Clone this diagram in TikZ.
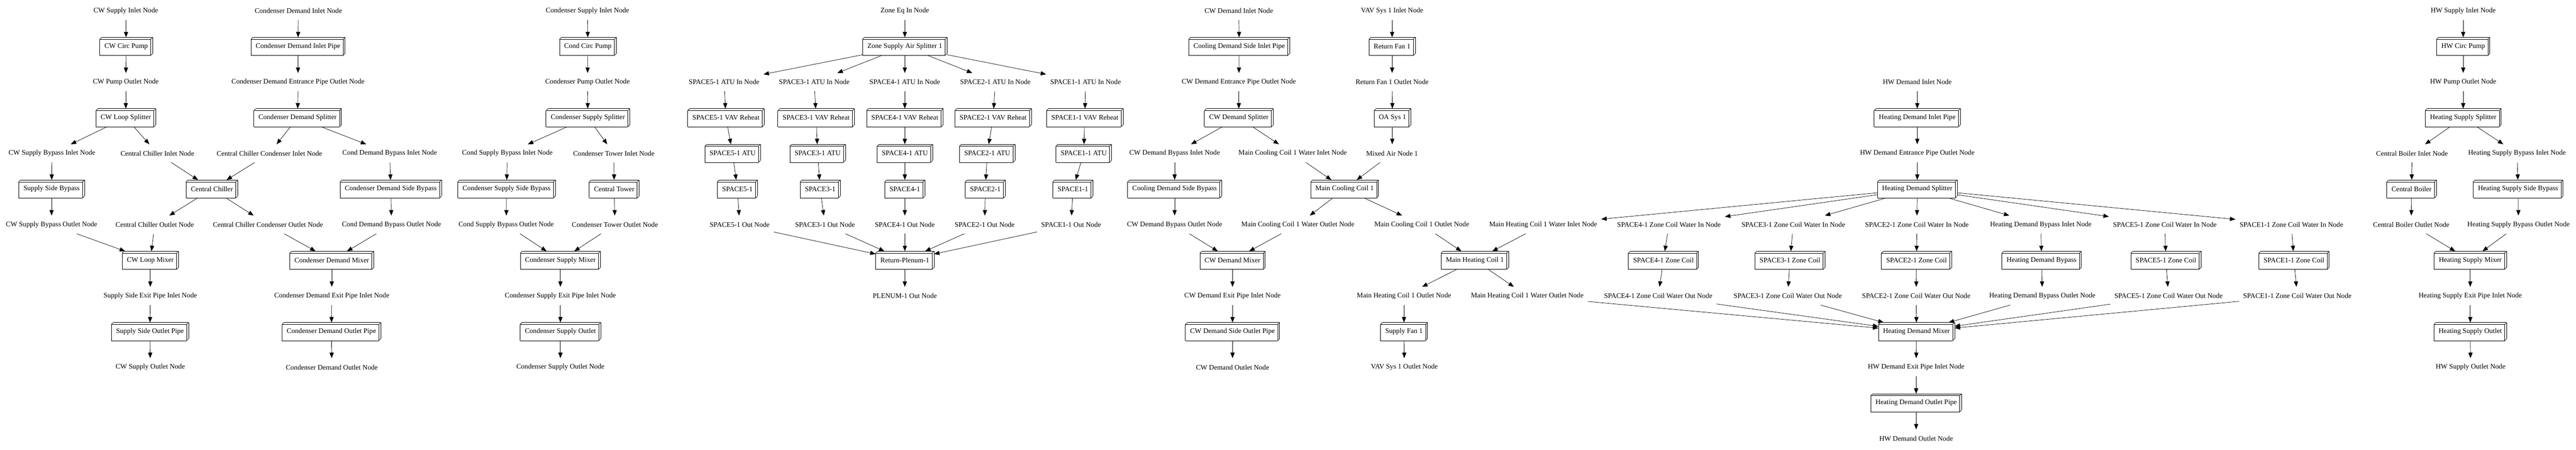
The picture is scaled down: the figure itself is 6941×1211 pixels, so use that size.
\documentclass[tikz,border=0pt]{standalone}
\usepackage{fontspec}
\setmainfont{Liberation Serif}
\usepackage{tikz}
\usetikzlibrary{arrows.meta}

\tikzset{
    port/.style={minimum height=36pt, inner xsep=8pt, inner ysep=0pt},
    comp/.style={minimum height=36pt, inner xsep=9.3pt, inner ysep=0pt,
        append after command={
            \pgfextra{\let\compnode\tikzlastnode}
            (\compnode.south west) edge[-] ([yshift=-4pt]\compnode.north west)
            ([yshift=-4pt]\compnode.north west) edge[-] ([shift={(-4pt,-4pt)}]\compnode.north east)
            ([shift={(-4pt,-4pt)}]\compnode.north east) edge[-] ([xshift=-4pt]\compnode.south east)
            ([xshift=-4pt]\compnode.south east) edge[-] (\compnode.south west)
            ([yshift=-4pt]\compnode.north west) edge[-] ([xshift=4pt]\compnode.north west)
            ([xshift=4pt]\compnode.north west) edge[-] (\compnode.north east)
            (\compnode.north east) edge[-] ([yshift=4pt]\compnode.south east)
            ([yshift=4pt]\compnode.south east) edge[-] ([xshift=-4pt]\compnode.south east)
            ([shift={(-4pt,-4pt)}]\compnode.north east) edge[-] (\compnode.north east)
        }},
    flow/.style={-{Triangle[length=11pt, width=8.5pt]}}
}

\begin{document}
\begin{tikzpicture}[x=0.75pt, y=-0.75pt, line width=0.75pt, font=\fontsize{14.2}{16}\selectfont]
    \useasboundingbox (0, 0) rectangle (6941, 1211);

    % Chilled water supply loop
    \node[port] (cwsIn) at (339, 29) {CW Supply Inlet Node};
    \node[comp] (cwPump) at (340, 125) {CW Circ Pump};
    \node[port] (cwPumpOut) at (339, 221) {CW Pump Outlet Node};
    \node[comp] (cwSplit) at (339, 317) {CW Loop Splitter};
    \node[port] (cwBypIn) at (140, 413) {CW Supply Bypass Inlet Node};
    \node[port] (chilIn) at (424, 413) {Central Chiller Inlet Node};
    \node[comp] (cwBypass) at (139, 509) {Supply Side Bypass};
    \node[comp] (chiller) at (571, 509) {Central Chiller};
    \node[port] (cwBypOut) at (139, 605) {CW Supply Bypass Outlet Node};
    \node[port] (chilOut) at (417, 605) {Central Chiller Outlet Node};
    \node[port] (chilCondOut) at (722, 605) {Central Chiller Condenser Outlet Node};
    \node[comp] (cwMix) at (405, 701) {CW Loop Mixer};
    \node[port] (cwExitIn) at (405, 797) {Supply Side Exit Pipe Inlet Node};
    \node[comp] (cwOutPipe) at (404, 893) {Supply Side Outlet Pipe};
    \node[port] (cwsOut) at (405, 989) {CW Supply Outlet Node};

    % Condenser demand loop
    \node[port] (cdIn) at (804, 29) {Condenser Demand Inlet Node};
    \node[comp] (cdInPipe) at (803, 125) {Condenser Demand Inlet Pipe};
    \node[port] (cdEntOut) at (803, 221) {Condenser Demand Entrance Pipe Outlet Node};
    \node[comp] (cdSplit) at (802, 317) {Condenser Demand Splitter};
    \node[port] (chilCondIn) at (726, 413) {Central Chiller Condenser Inlet Node};
    \node[port] (cdBypIn) at (1050, 413) {Cond Demand Bypass Inlet Node};
    \node[comp] (cdBypass) at (1053, 509) {Condenser Demand Side Bypass};
    \node[port] (cdBypOut) at (1055, 605) {Cond Demand Bypass Outlet Node};
    \node[comp] (cdMix) at (894, 701) {Condenser Demand Mixer};
    \node[port] (cdExitIn) at (894, 797) {Condenser Demand Exit Pipe Inlet Node};
    \node[comp] (cdOutPipe) at (893, 893) {Condenser Demand Outlet Pipe};
    \node[port] (cdOut) at (894, 989) {Condenser Demand Outlet Node};

    % Condenser supply loop
    \node[port] (csIn) at (1583, 29) {Condenser Supply Inlet Node};
    \node[comp] (condPump) at (1584, 125) {Cond Circ Pump};
    \node[port] (csPumpOut) at (1583, 221) {Condenser Pump Outlet Node};
    \node[comp] (csSplit) at (1584, 317) {Condenser Supply Splitter};
    \node[port] (csBypIn) at (1367, 413) {Cond Supply Bypass Inlet Node};
    \node[port] (towerIn) at (1654, 413) {Condenser Tower Inlet Node};
    \node[comp] (csBypass) at (1365, 509) {Condenser Supply Side Bypass};
    \node[comp] (tower) at (1655, 509) {Central Tower};
    \node[port] (csBypOut) at (1364, 605) {Cond Supply Bypass Outlet Node};
    \node[port] (towerOut) at (1657, 605) {Condenser Tower Outlet Node};
    \node[comp] (csMix) at (1510, 701) {Condenser Supply Mixer};
    \node[port] (csExitIn) at (1510, 797) {Condenser Supply Exit Pipe Inlet Node};
    \node[comp] (csOutlet) at (1510, 893) {Condenser Supply Outlet};
    \node[port] (csOut) at (1510, 989) {Condenser Supply Outlet Node};

    % Zone air distribution
    \node[port] (zeqIn) at (2438, 29) {Zone Eq In Node};
    \node[comp] (zSplit) at (2438, 125) {Zone Supply Air Splitter 1};
    \node[port] (atuIn5) at (1951, 221) {SPACE5-1 ATU In Node};
    \node[port] (atuIn3) at (2194, 221) {SPACE3-1 ATU In Node};
    \node[port] (atuIn4) at (2438, 221) {SPACE4-1 ATU In Node};
    \node[port] (atuIn2) at (2682, 221) {SPACE2-1 ATU In Node};
    \node[port] (atuIn1) at (2925, 221) {SPACE1-1 ATU In Node};
    \node[comp] (vav5) at (1956, 317) {SPACE5-1 VAV Reheat};
    \node[comp] (vav3) at (2199, 317) {SPACE3-1 VAV Reheat};
    \node[comp] (vav4) at (2438, 317) {SPACE4-1 VAV Reheat};
    \node[comp] (vav2) at (2676, 317) {SPACE2-1 VAV Reheat};
    \node[comp] (vav1) at (2923, 317) {SPACE1-1 VAV Reheat};
    \node[comp] (atu5) at (1974, 413) {SPACE5-1 ATU};
    \node[comp] (atu3) at (2203, 413) {SPACE3-1 ATU};
    \node[comp] (atu4) at (2438, 413) {SPACE4-1 ATU};
    \node[comp] (atu2) at (2660, 413) {SPACE2-1 ATU};
    \node[comp] (atu1) at (2920, 413) {SPACE1-1 ATU};
    \node[comp] (sp5) at (1987, 509) {SPACE5-1};
    \node[comp] (sp3) at (2210, 509) {SPACE3-1};
    \node[comp] (sp4) at (2438, 509) {SPACE4-1};
    \node[comp] (sp2) at (2655, 509) {SPACE2-1};
    \node[comp] (sp1) at (2891, 509) {SPACE1-1};
    \node[port] (spOut5) at (1993, 605) {SPACE5-1 Out Node};
    \node[port] (spOut3) at (2223, 605) {SPACE3-1 Out Node};
    \node[port] (spOut4) at (2438, 605) {SPACE4-1 Out Node};
    \node[port] (spOut2) at (2653, 605) {SPACE2-1 Out Node};
    \node[port] (spOut1) at (2886, 605) {SPACE1-1 Out Node};
    \node[comp] (plenum) at (2438, 701) {Return-Plenum-1};
    \node[port] (plOut) at (2438, 797) {PLENUM-1 Out Node};

    % Chilled water demand loop
    \node[port] (cwdIn) at (3338, 29) {CW Demand Inlet Node};
    \node[comp] (cwdInPipe) at (3339, 125) {Cooling Demand Side Inlet Pipe};
    \node[port] (cwdEntOut) at (3338, 221) {CW Demand Entrance Pipe Outlet Node};
    \node[comp] (cwdSplit) at (3338, 317) {CW Demand Splitter};
    \node[port] (cwdBypIn) at (3165, 413) {CW Demand Bypass Inlet Node};
    \node[port] (ccWIn) at (3483, 413) {Main Cooling Coil 1 Water Inlet Node};
    \node[comp] (cwdBypass) at (3165, 509) {Cooling Demand Side Bypass};
    \node[comp] (cCoil) at (3623, 509) {Main Cooling Coil 1};
    \node[port] (cwdBypOut) at (3165, 605) {CW Demand Bypass Outlet Node};
    \node[port] (ccWOut) at (3497, 605) {Main Cooling Coil 1 Water Outlet Node};
    \node[comp] (cwdMix) at (3321, 701) {CW Demand Mixer};
    \node[port] (cwdExitIn) at (3321, 797) {CW Demand Exit Pipe Inlet Node};
    \node[comp] (cwdOutPipe) at (3321, 893) {CW Demand Side Outlet Pipe};
    \node[port] (cwdOut) at (3321, 989) {CW Demand Outlet Node};

    % Air loop
    \node[port] (vavIn) at (3751, 29) {VAV Sys 1 Inlet Node};
    \node[comp] (rFan) at (3751, 125) {Return Fan 1};
    \node[port] (rFanOut) at (3751, 221) {Return Fan 1 Outlet Node};
    \node[comp] (oaSys) at (3752, 317) {OA Sys 1};
    \node[port] (mixAir) at (3751, 413) {Mixed Air Node 1};
    \node[port] (ccOut) at (3831, 605) {Main Cooling Coil 1 Outlet Node};
    \node[port] (hcWIn) at (4158, 605) {Main Heating Coil 1 Water Inlet Node};
    \node[comp] (hCoil) at (3974, 701) {Main Heating Coil 1};
    \node[port] (hcOut) at (3783, 797) {Main Heating Coil 1 Outlet Node};
    \node[port] (hcWOut) at (4115, 797) {Main Heating Coil 1 Water Outlet Node};
    \node[comp] (sFan) at (3783, 893) {Supply Fan 1};
    \node[port] (vavOut) at (3784, 989) {VAV Sys 1 Outlet Node};

    % Hot water demand loop
    \node[port] (hwdIn) at (5166, 221) {HW Demand Inlet Node};
    \node[comp] (hwdInPipe) at (5166, 317) {Heating Demand Inlet Pipe};
    \node[port] (hwdEntOut) at (5166, 413) {HW Demand Entrance Pipe Outlet Node};
    \node[comp] (hwdSplit) at (5166, 509) {Heating Demand Splitter};
    \node[port] (zcIn4) at (4497, 605) {SPACE4-1 Zone Coil Water In Node};
    \node[port] (zcIn3) at (4832, 605) {SPACE3-1 Zone Coil Water In Node};
    \node[port] (zcIn2) at (5165, 605) {SPACE2-1 Zone Coil Water In Node};
    \node[port] (hwdBypIn) at (5499, 605) {Heating Demand Bypass Inlet Node};
    \node[port] (zcIn5) at (5833, 605) {SPACE5-1 Zone Coil Water In Node};
    \node[port] (zcIn1) at (6174, 605) {SPACE1-1 Zone Coil Water In Node};
    \node[comp] (zc4) at (4482, 701) {SPACE4-1 Zone Coil};
    \node[comp] (zc3) at (4823, 701) {SPACE3-1 Zone Coil};
    \node[comp] (zc2) at (5164, 701) {SPACE2-1 Zone Coil};
    \node[comp] (hwdBypass) at (5501, 701) {Heating Demand Bypass};
    \node[comp] (zc5) at (5836, 701) {SPACE5-1 Zone Coil};
    \node[comp] (zc1) at (6181, 701) {SPACE1-1 Zone Coil};
    \node[port] (zcOut4) at (4468, 797) {SPACE4-1 Zone Coil Water Out Node};
    \node[port] (zcOut3) at (4817, 797) {SPACE3-1 Zone Coil Water Out Node};
    \node[port] (zcOut2) at (5163, 797) {SPACE2-1 Zone Coil Water Out Node};
    \node[port] (hwdBypOut) at (5503, 797) {Heating Demand Bypass Outlet Node};
    \node[port] (zcOut5) at (5843, 797) {SPACE5-1 Zone Coil Water Out Node};
    \node[port] (zcOut1) at (6190, 797) {SPACE1-1 Zone Coil Water Out Node};
    \node[comp] (hwdMix) at (5164, 893) {Heating Demand Mixer};
    \node[port] (hwdExitIn) at (5163, 989) {HW Demand Exit Pipe Inlet Node};
    \node[comp] (hwdOutPipe) at (5163, 1085) {Heating Demand Outlet Pipe};
    \node[port] (hwdOut) at (5163, 1181) {HW Demand Outlet Node};

    % Hot water supply loop
    \node[port] (hwsIn) at (6637, 29) {HW Supply Inlet Node};
    \node[comp] (hwPump) at (6637, 125) {HW Circ Pump};
    \node[port] (hwPumpOut) at (6637, 221) {HW Pump Outlet Node};
    \node[comp] (hwsSplit) at (6637, 317) {Heating Supply Splitter};
    \node[port] (boilIn) at (6499, 413) {Central Boiler Inlet Node};
    \node[port] (hwsBypIn) at (6782, 413) {Heating Supply Bypass Inlet Node};
    \node[comp] (boiler) at (6498, 509) {Central Boiler};
    \node[comp] (hwsBypass) at (6785, 509) {Heating Supply Side Bypass};
    \node[port] (boilOut) at (6497, 605) {Central Boiler Outlet Node};
    \node[port] (hwsBypOut) at (6786, 605) {Heating Supply Bypass Outlet Node};
    \node[comp] (hwsMix) at (6656, 701) {Heating Supply Mixer};
    \node[port] (hwsExitIn) at (6656, 797) {Heating Supply Exit Pipe Inlet Node};
    \node[comp] (hwsOutlet) at (6656, 893) {Heating Supply Outlet};
    \node[port] (hwsOut) at (6657, 989) {HW Supply Outlet Node};

    % Connections: chilled water supply
    \draw[flow] (cwsIn) -- (cwPump);
    \draw[flow] (cwPump) -- (cwPumpOut);
    \draw[flow] (cwPumpOut) -- (cwSplit);
    \draw[flow] (cwSplit) -- (cwBypIn);
    \draw[flow] (cwSplit) -- (chilIn);
    \draw[flow] (cwBypIn) -- (cwBypass);
    \draw[flow] (chilIn) -- (chiller);
    \draw[flow] (cwBypass) -- (cwBypOut);
    \draw[flow] (chiller) -- (chilOut);
    \draw[flow] (chiller) -- (chilCondOut);
    \draw[flow] (cwBypOut) -- (cwMix);
    \draw[flow] (chilOut) -- (cwMix);
    \draw[flow] (cwMix) -- (cwExitIn);
    \draw[flow] (cwExitIn) -- (cwOutPipe);
    \draw[flow] (cwOutPipe) -- (cwsOut);

    % Connections: condenser demand
    \draw[flow] (cdIn) -- (cdInPipe);
    \draw[flow] (cdInPipe) -- (cdEntOut);
    \draw[flow] (cdEntOut) -- (cdSplit);
    \draw[flow] (cdSplit) -- (chilCondIn);
    \draw[flow] (cdSplit) -- (cdBypIn);
    \draw[flow] (chilCondIn) -- (chiller);
    \draw[flow] (cdBypIn) -- (cdBypass);
    \draw[flow] (cdBypass) -- (cdBypOut);
    \draw[flow] (chilCondOut) -- (cdMix);
    \draw[flow] (cdBypOut) -- (cdMix);
    \draw[flow] (cdMix) -- (cdExitIn);
    \draw[flow] (cdExitIn) -- (cdOutPipe);
    \draw[flow] (cdOutPipe) -- (cdOut);

    % Connections: condenser supply
    \draw[flow] (csIn) -- (condPump);
    \draw[flow] (condPump) -- (csPumpOut);
    \draw[flow] (csPumpOut) -- (csSplit);
    \draw[flow] (csSplit) -- (csBypIn);
    \draw[flow] (csSplit) -- (towerIn);
    \draw[flow] (csBypIn) -- (csBypass);
    \draw[flow] (towerIn) -- (tower);
    \draw[flow] (csBypass) -- (csBypOut);
    \draw[flow] (tower) -- (towerOut);
    \draw[flow] (csBypOut) -- (csMix);
    \draw[flow] (towerOut) -- (csMix);
    \draw[flow] (csMix) -- (csExitIn);
    \draw[flow] (csExitIn) -- (csOutlet);
    \draw[flow] (csOutlet) -- (csOut);

    % Connections: zone air
    \draw[flow] (zeqIn) -- (zSplit);
    \draw[flow] (zSplit) -- (atuIn5);
    \draw[flow] (zSplit) -- (atuIn3);
    \draw[flow] (zSplit) -- (atuIn4);
    \draw[flow] (zSplit) -- (atuIn2);
    \draw[flow] (zSplit) -- (atuIn1);
    \draw[flow] (atuIn5) -- (vav5);
    \draw[flow] (atuIn3) -- (vav3);
    \draw[flow] (atuIn4) -- (vav4);
    \draw[flow] (atuIn2) -- (vav2);
    \draw[flow] (atuIn1) -- (vav1);
    \draw[flow] (vav5) -- (atu5);
    \draw[flow] (vav3) -- (atu3);
    \draw[flow] (vav4) -- (atu4);
    \draw[flow] (vav2) -- (atu2);
    \draw[flow] (vav1) -- (atu1);
    \draw[flow] (atu5) -- (sp5);
    \draw[flow] (atu3) -- (sp3);
    \draw[flow] (atu4) -- (sp4);
    \draw[flow] (atu2) -- (sp2);
    \draw[flow] (atu1) -- (sp1);
    \draw[flow] (sp5) -- (spOut5);
    \draw[flow] (sp3) -- (spOut3);
    \draw[flow] (sp4) -- (spOut4);
    \draw[flow] (sp2) -- (spOut2);
    \draw[flow] (sp1) -- (spOut1);
    \draw[flow] (spOut5) -- (plenum);
    \draw[flow] (spOut3) -- (plenum);
    \draw[flow] (spOut4) -- (plenum);
    \draw[flow] (spOut2) -- (plenum);
    \draw[flow] (spOut1) -- (plenum);
    \draw[flow] (plenum) -- (plOut);

    % Connections: chilled water demand
    \draw[flow] (cwdIn) -- (cwdInPipe);
    \draw[flow] (cwdInPipe) -- (cwdEntOut);
    \draw[flow] (cwdEntOut) -- (cwdSplit);
    \draw[flow] (cwdSplit) -- (cwdBypIn);
    \draw[flow] (cwdSplit) -- (ccWIn);
    \draw[flow] (cwdBypIn) -- (cwdBypass);
    \draw[flow] (ccWIn) -- (cCoil);
    \draw[flow] (cwdBypass) -- (cwdBypOut);
    \draw[flow] (cCoil) -- (ccWOut);
    \draw[flow] (cwdBypOut) -- (cwdMix);
    \draw[flow] (ccWOut) -- (cwdMix);
    \draw[flow] (cwdMix) -- (cwdExitIn);
    \draw[flow] (cwdExitIn) -- (cwdOutPipe);
    \draw[flow] (cwdOutPipe) -- (cwdOut);

    % Connections: air loop
    \draw[flow] (vavIn) -- (rFan);
    \draw[flow] (rFan) -- (rFanOut);
    \draw[flow] (rFanOut) -- (oaSys);
    \draw[flow] (oaSys) -- (mixAir);
    \draw[flow] (mixAir) -- (cCoil);
    \draw[flow] (cCoil) -- (ccOut);
    \draw[flow] (ccOut) -- (hCoil);
    \draw[flow] (hcWIn) -- (hCoil);
    \draw[flow] (hCoil) -- (hcOut);
    \draw[flow] (hCoil) -- (hcWOut);
    \draw[flow] (hcOut) -- (sFan);
    \draw[flow] (sFan) -- (vavOut);

    % Connections: hot water demand
    \draw[flow] (hwdIn) -- (hwdInPipe);
    \draw[flow] (hwdInPipe) -- (hwdEntOut);
    \draw[flow] (hwdEntOut) -- (hwdSplit);
    \draw[flow] (hwdSplit) -- (hcWIn);
    \draw[flow] (hwdSplit) -- (zcIn4);
    \draw[flow] (hwdSplit) -- (zcIn3);
    \draw[flow] (hwdSplit) -- (zcIn2);
    \draw[flow] (hwdSplit) -- (hwdBypIn);
    \draw[flow] (hwdSplit) -- (zcIn5);
    \draw[flow] (hwdSplit) -- (zcIn1);
    \draw[flow] (zcIn4) -- (zc4);
    \draw[flow] (zcIn3) -- (zc3);
    \draw[flow] (zcIn2) -- (zc2);
    \draw[flow] (hwdBypIn) -- (hwdBypass);
    \draw[flow] (zcIn5) -- (zc5);
    \draw[flow] (zcIn1) -- (zc1);
    \draw[flow] (zc4) -- (zcOut4);
    \draw[flow] (zc3) -- (zcOut3);
    \draw[flow] (zc2) -- (zcOut2);
    \draw[flow] (hwdBypass) -- (hwdBypOut);
    \draw[flow] (zc5) -- (zcOut5);
    \draw[flow] (zc1) -- (zcOut1);
    \draw[flow] (hcWOut) -- (hwdMix);
    \draw[flow] (zcOut4) -- (hwdMix);
    \draw[flow] (zcOut3) -- (hwdMix);
    \draw[flow] (zcOut2) -- (hwdMix);
    \draw[flow] (hwdBypOut) -- (hwdMix);
    \draw[flow] (zcOut5) -- (hwdMix);
    \draw[flow] (zcOut1) -- (hwdMix);
    \draw[flow] (hwdMix) -- (hwdExitIn);
    \draw[flow] (hwdExitIn) -- (hwdOutPipe);
    \draw[flow] (hwdOutPipe) -- (hwdOut);

    % Connections: hot water supply
    \draw[flow] (hwsIn) -- (hwPump);
    \draw[flow] (hwPump) -- (hwPumpOut);
    \draw[flow] (hwPumpOut) -- (hwsSplit);
    \draw[flow] (hwsSplit) -- (boilIn);
    \draw[flow] (hwsSplit) -- (hwsBypIn);
    \draw[flow] (boilIn) -- (boiler);
    \draw[flow] (hwsBypIn) -- (hwsBypass);
    \draw[flow] (boiler) -- (boilOut);
    \draw[flow] (hwsBypass) -- (hwsBypOut);
    \draw[flow] (boilOut) -- (hwsMix);
    \draw[flow] (hwsBypOut) -- (hwsMix);
    \draw[flow] (hwsMix) -- (hwsExitIn);
    \draw[flow] (hwsExitIn) -- (hwsOutlet);
    \draw[flow] (hwsOutlet) -- (hwsOut);
\end{tikzpicture}
\end{document}
